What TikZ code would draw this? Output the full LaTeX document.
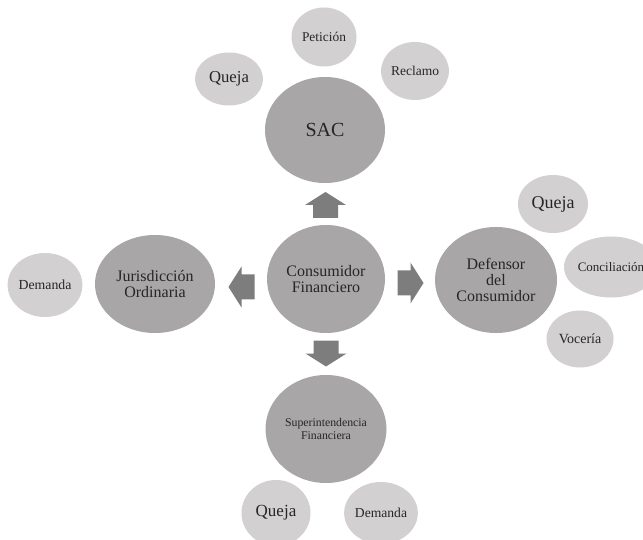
\documentclass[tikz,border=0pt]{standalone}
\usepackage{fontspec}
\setmainfont{Liberation Serif}
\usetikzlibrary{shapes.geometric}
\definecolor{biggray}{RGB}{168,166,166}
\definecolor{smallgray}{RGB}{210,208,208}
\definecolor{arrowgray}{RGB}{125,125,125}
\newcommand{\fs}[2]{\fontsize{#1}{#2}\selectfont}
\begin{document}
\begin{tikzpicture}[x=1pt,y=-1pt,
  big/.style={ellipse,fill=biggray,inner sep=0pt,align=center,text=black!85},
  small/.style={ellipse,fill=smallgray,inner sep=0pt,align=center,text=black!85},
  blockarrow/.pic={\fill[arrowgray] (-13,-12.5) -- (0,-12.5) -- (0,-20.5) -- (13,0) -- (0,20.5) -- (0,12.5) -- (-13,12.5) -- cycle;}]
\useasboundingbox (0,0) rectangle (643,540);
\fill[white] (0,0) rectangle (643,540);
% big circles
\node[big,minimum width=118,minimum height=108,font={\fs{16}{16}}] (cons) at (326,279) {Consumidor\\Financiero};
\node[big,minimum width=120,minimum height=106,font={\fs{20}{20}}] (sac) at (325,130) {SAC};
\node[big,minimum width=120,minimum height=98,font={\fs{16}{16}}] (juris) at (155,284) {Jurisdicción\\Ordinaria};
\node[big,minimum width=122,minimum height=106,font={\fs{16}{16}}] (def) at (496,280) {Defensor\\del\\Consumidor};
\node[big,minimum width=121,minimum height=108,font={\fs{11.8}{12.5}}] (super) at (326,429) {Superintendencia\\Financiera};
% small circles
\node[small,minimum width=65,minimum height=59,font={\fs{13.4}{14}}] (pet) at (324,37) {Petición};
\node[small,minimum width=68,minimum height=53,font={\fs{16.7}{16}}] (q1) at (229,79) {Queja};
\node[small,minimum width=64,minimum height=58,font={\fs{13.5}{14}}] (rec) at (415,71) {Reclamo};
\node[small,minimum width=70,minimum height=58,font={\fs{18}{16}}] (q2) at (553,204) {Queja};
\node[small,minimum width=72,minimum height=61,font={\fs{13}{14}}] (conc) at (611,267) {Conciliación};
\node[small,minimum width=67,minimum height=57,font={\fs{14}{14}}] (voc) at (580,339) {Vocería};
\node[small,minimum width=74,minimum height=64,font={\fs{13.8}{14}}] (dem1) at (45,285) {Demanda};
\node[small,minimum width=69,minimum height=66,font={\fs{17}{16}}] (q3) at (276,513) {Queja};
\node[small,minimum width=66,minimum height=62,font={\fs{13.6}{14}}] (dem2) at (381,513) {Demanda};
% block arrows
\pic at (325.5,205) [rotate=90] {blockarrow};
\pic at (326,353.5) [rotate=-90] {blockarrow};
\pic at (241.5,287) [rotate=180] {blockarrow};
\pic at (410.5,283) {blockarrow};
\end{tikzpicture}
\end{document}
